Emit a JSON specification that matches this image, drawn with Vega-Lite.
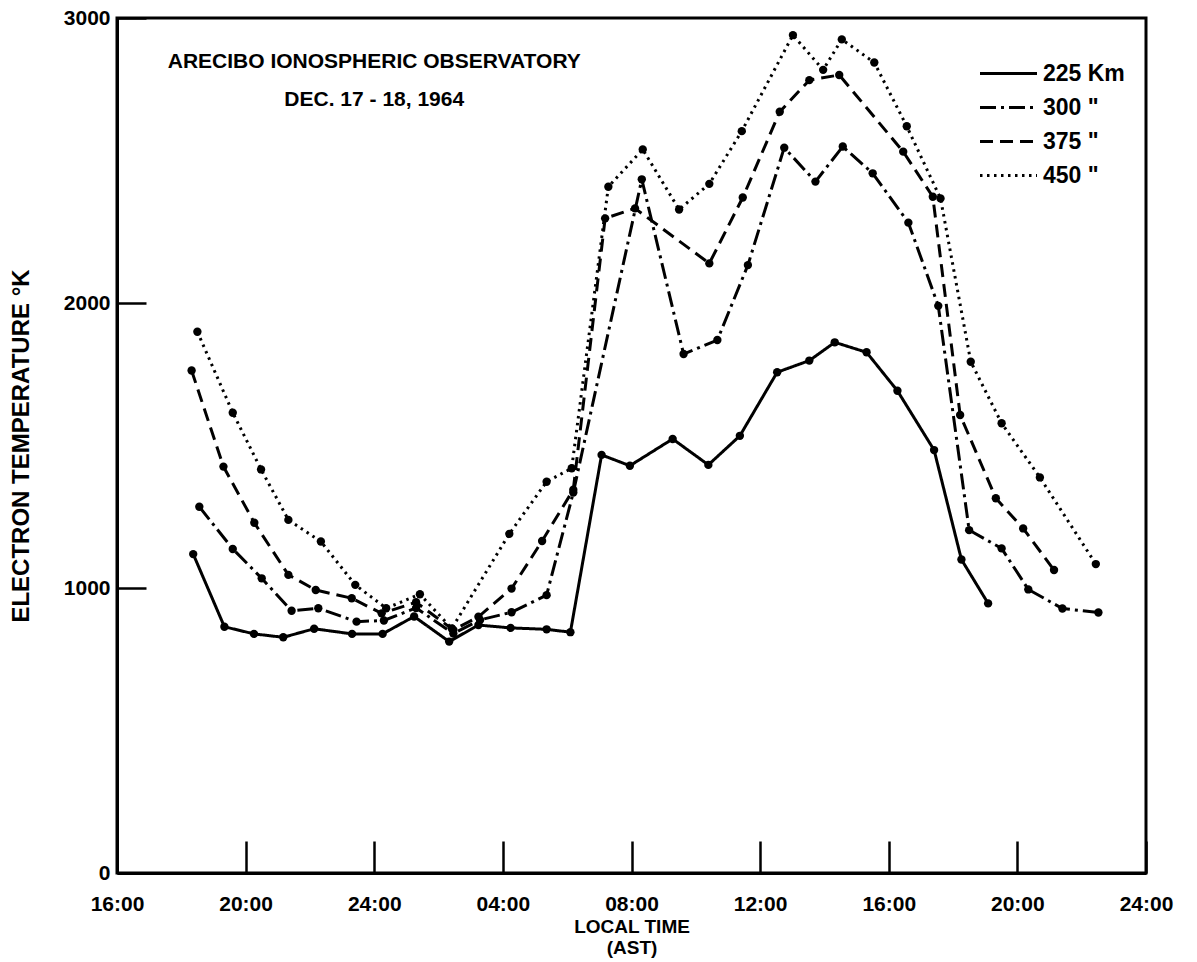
{
  "$schema": "https://vega.github.io/schema/vega-lite/v6.json",
  "width": 1029,
  "height": 855,
  "autosize": {"type": "none"},
  "padding": {"left": 117, "top": 18, "right": 51, "bottom": 89},
  "background": "white",
  "config": {
    "view": {"stroke": "black", "strokeWidth": 3},
    "font": "Liberation Sans"
  },
  "datasets": {
    "temps": [
      {"alt": "225 Km", "hour": 18.37, "temp": 1119},
      {"alt": "225 Km", "hour": 19.34, "temp": 864},
      {"alt": "225 Km", "hour": 20.26, "temp": 839},
      {"alt": "225 Km", "hour": 21.17, "temp": 827},
      {"alt": "225 Km", "hour": 22.13, "temp": 857},
      {"alt": "225 Km", "hour": 23.31, "temp": 839},
      {"alt": "225 Km", "hour": 24.26, "temp": 839},
      {"alt": "225 Km", "hour": 25.24, "temp": 900},
      {"alt": "225 Km", "hour": 26.33, "temp": 812},
      {"alt": "225 Km", "hour": 27.24, "temp": 870},
      {"alt": "225 Km", "hour": 28.24, "temp": 860},
      {"alt": "225 Km", "hour": 29.36, "temp": 855},
      {"alt": "225 Km", "hour": 30.10, "temp": 845},
      {"alt": "225 Km", "hour": 31.07, "temp": 1467},
      {"alt": "225 Km", "hour": 31.95, "temp": 1429},
      {"alt": "225 Km", "hour": 33.28, "temp": 1523},
      {"alt": "225 Km", "hour": 34.39, "temp": 1432},
      {"alt": "225 Km", "hour": 35.37, "temp": 1534},
      {"alt": "225 Km", "hour": 36.53, "temp": 1757},
      {"alt": "225 Km", "hour": 37.53, "temp": 1798},
      {"alt": "225 Km", "hour": 38.32, "temp": 1862},
      {"alt": "225 Km", "hour": 39.31, "temp": 1827},
      {"alt": "225 Km", "hour": 40.27, "temp": 1692},
      {"alt": "225 Km", "hour": 41.41, "temp": 1484},
      {"alt": "225 Km", "hour": 42.26, "temp": 1100},
      {"alt": "225 Km", "hour": 43.09, "temp": 946},

      {"alt": "300", "hour": 18.56, "temp": 1285},
      {"alt": "300", "hour": 19.60, "temp": 1137},
      {"alt": "300", "hour": 20.50, "temp": 1034},
      {"alt": "300", "hour": 21.43, "temp": 920},
      {"alt": "300", "hour": 22.26, "temp": 929},
      {"alt": "300", "hour": 23.45, "temp": 882},
      {"alt": "300", "hour": 24.30, "temp": 886},
      {"alt": "300", "hour": 25.30, "temp": 930},
      {"alt": "300", "hour": 26.46, "temp": 840},
      {"alt": "300", "hour": 27.29, "temp": 888},
      {"alt": "300", "hour": 28.27, "temp": 915},
      {"alt": "300", "hour": 29.36, "temp": 975},
      {"alt": "300", "hour": 30.19, "temp": 1335},
      {"alt": "300", "hour": 32.32, "temp": 2434},
      {"alt": "300", "hour": 33.62, "temp": 1821},
      {"alt": "300", "hour": 34.67, "temp": 1870},
      {"alt": "300", "hour": 35.62, "temp": 2133},
      {"alt": "300", "hour": 36.75, "temp": 2545},
      {"alt": "300", "hour": 37.72, "temp": 2426},
      {"alt": "300", "hour": 38.57, "temp": 2549},
      {"alt": "300", "hour": 39.50, "temp": 2455},
      {"alt": "300", "hour": 40.61, "temp": 2282},
      {"alt": "300", "hour": 41.54, "temp": 1990},
      {"alt": "300", "hour": 42.50, "temp": 1203},
      {"alt": "300", "hour": 43.51, "temp": 1139},
      {"alt": "300", "hour": 44.34, "temp": 995},
      {"alt": "300", "hour": 45.40, "temp": 928},
      {"alt": "300", "hour": 46.52, "temp": 914},

      {"alt": "375", "hour": 18.32, "temp": 1763},
      {"alt": "375", "hour": 19.31, "temp": 1426},
      {"alt": "375", "hour": 20.27, "temp": 1229},
      {"alt": "375", "hour": 21.33, "temp": 1046},
      {"alt": "375", "hour": 22.18, "temp": 993},
      {"alt": "375", "hour": 23.30, "temp": 964},
      {"alt": "375", "hour": 24.23, "temp": 911},
      {"alt": "375", "hour": 25.30, "temp": 950},
      {"alt": "375", "hour": 26.46, "temp": 853},
      {"alt": "375", "hour": 27.24, "temp": 899},
      {"alt": "375", "hour": 28.27, "temp": 998},
      {"alt": "375", "hour": 29.22, "temp": 1165},
      {"alt": "375", "hour": 30.19, "temp": 1345},
      {"alt": "375", "hour": 31.18, "temp": 2297},
      {"alt": "375", "hour": 32.11, "temp": 2332},
      {"alt": "375", "hour": 34.42, "temp": 2139},
      {"alt": "375", "hour": 35.46, "temp": 2370},
      {"alt": "375", "hour": 36.61, "temp": 2671},
      {"alt": "375", "hour": 37.53, "temp": 2782},
      {"alt": "375", "hour": 38.46, "temp": 2800},
      {"alt": "375", "hour": 40.45, "temp": 2531},
      {"alt": "375", "hour": 41.37, "temp": 2373},
      {"alt": "375", "hour": 42.22, "temp": 1607},
      {"alt": "375", "hour": 43.33, "temp": 1315},
      {"alt": "375", "hour": 44.18, "temp": 1209},
      {"alt": "375", "hour": 45.14, "temp": 1063},

      {"alt": "450", "hour": 18.50, "temp": 1899},
      {"alt": "450", "hour": 19.60, "temp": 1615},
      {"alt": "450", "hour": 20.48, "temp": 1416},
      {"alt": "450", "hour": 21.33, "temp": 1239},
      {"alt": "450", "hour": 22.34, "temp": 1163},
      {"alt": "450", "hour": 23.41, "temp": 1011},
      {"alt": "450", "hour": 24.37, "temp": 929},
      {"alt": "450", "hour": 25.42, "temp": 978},
      {"alt": "450", "hour": 26.41, "temp": 858},
      {"alt": "450", "hour": 28.20, "temp": 1190},
      {"alt": "450", "hour": 29.36, "temp": 1373},
      {"alt": "450", "hour": 30.14, "temp": 1420},
      {"alt": "450", "hour": 31.28, "temp": 2408},
      {"alt": "450", "hour": 32.35, "temp": 2539},
      {"alt": "450", "hour": 33.48, "temp": 2328},
      {"alt": "450", "hour": 34.42, "temp": 2418},
      {"alt": "450", "hour": 35.43, "temp": 2603},
      {"alt": "450", "hour": 37.02, "temp": 2940},
      {"alt": "450", "hour": 37.96, "temp": 2818},
      {"alt": "450", "hour": 38.54, "temp": 2925},
      {"alt": "450", "hour": 39.55, "temp": 2844},
      {"alt": "450", "hour": 40.56, "temp": 2620},
      {"alt": "450", "hour": 41.61, "temp": 2367},
      {"alt": "450", "hour": 42.55, "temp": 1794},
      {"alt": "450", "hour": 43.51, "temp": 1578},
      {"alt": "450", "hour": 44.70, "temp": 1388},
      {"alt": "450", "hour": 46.44, "temp": 1084}
    ]
  },
  "layer": [
    {
      "data": {"name": "temps"},
      "mark": {"type": "line", "strokeWidth": 3, "color": "black"},
      "encoding": {
        "x": {
          "field": "hour", "type": "quantitative",
          "scale": {"domain": [16, 48], "nice": false, "zero": false},
          "axis": {
            "values": [16, 20, 24, 28, 32, 36, 40, 44, 48],
            "labelExpr": "datum.value <= 24 ? datum.value + ':00' : (datum.value - 24 < 10 ? '0' + (datum.value - 24) : '' + (datum.value - 24)) + ':00'",
            "labelFlush": false,
            "labelOverlap": false,
            "grid": false,
            "tickSize": -32,
            "tickWidth": 2.5,
            "tickColor": "black",
            "domainColor": "black",
            "domainWidth": 3,
            "labelPadding": 52,
            "labelFont": "Liberation Sans",
            "labelFontWeight": "bold",
            "labelFontSize": 21,
            "labelColor": "black",
            "title": ["LOCAL TIME", "(AST)"],
            "titleFont": "Liberation Sans",
            "titleFontWeight": "bold",
            "titleFontSize": 19,
            "titleLineHeight": 21,
            "titleColor": "black",
            "titlePadding": 3
          }
        },
        "y": {
          "field": "temp", "type": "quantitative",
          "scale": {"domain": [0, 3000], "nice": false},
          "axis": {
            "values": [0, 1000, 2000, 3000],
            "format": "d",
            "labelFlush": false,
            "labelOverlap": false,
            "grid": false,
            "tickSize": -29,
            "tickWidth": 2.5,
            "tickColor": "black",
            "domainColor": "black",
            "domainWidth": 3,
            "labelPadding": 36,
            "labelFont": "Liberation Sans",
            "labelFontWeight": "bold",
            "labelFontSize": 21,
            "labelColor": "black",
            "title": "ELECTRON TEMPERATURE °K",
            "titleFont": "Liberation Sans",
            "titleFontWeight": "bold",
            "titleFontSize": 24,
            "titleColor": "black",
            "titlePadding": 30
          }
        },
        "strokeDash": {
          "field": "alt", "type": "nominal",
          "scale": {
            "domain": ["225 Km", "300", "375", "450"],
            "range": [[1, 0], [16, 5, 3, 5], [13, 7], [2.5, 4.5]]
          },
          "legend": {
            "orient": "none",
            "legendX": 875,
            "legendY": 39,
            "title": null,
            "symbolType": "M-1.9,0H1.9",
            "symbolSize": 900,
            "symbolStrokeWidth": 3,
            "symbolStrokeColor": "black",
            "labelFont": "Liberation Sans",
            "labelFontWeight": "bold",
            "labelFontSize": 23,
            "labelColor": "black",
            "labelOffset": 18,
            "rowPadding": 5,
            "labelExpr": "datum.label == '225 Km' ? datum.label : datum.label + '     \"'"
          }
        }
      }
    },
    {
      "data": {"name": "temps"},
      "mark": {"type": "point", "filled": true, "size": 70, "color": "black", "opacity": 1},
      "encoding": {
        "x": {"field": "hour", "type": "quantitative"},
        "y": {"field": "temp", "type": "quantitative"}
      }
    },
    {
      "data": {"values": [{}]},
      "mark": {"type": "text", "font": "Liberation Sans", "fontWeight": "bold", "fontSize": 21, "color": "black", "align": "center", "baseline": "middle"},
      "encoding": {
        "x": {"datum": 24},
        "y": {"datum": 2846},
        "text": {"value": "ARECIBO IONOSPHERIC OBSERVATORY"}
      }
    },
    {
      "data": {"values": [{}]},
      "mark": {"type": "text", "font": "Liberation Sans", "fontWeight": "bold", "fontSize": 21, "color": "black", "align": "center", "baseline": "middle"},
      "encoding": {
        "x": {"datum": 24},
        "y": {"datum": 2712},
        "text": {"value": "DEC. 17 - 18, 1964"}
      }
    }
  ]
}
